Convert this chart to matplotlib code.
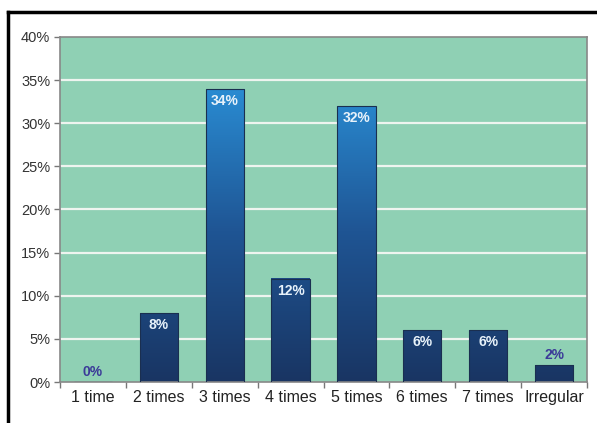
import matplotlib.pyplot as plt
import numpy as np
from matplotlib.colors import LinearSegmentedColormap
from matplotlib.lines import Line2D

categories = ['1 time', '2 times', '3 times', '4 times', '5 times', '6 times', '7 times', 'Irregular']
values = [0, 8, 34, 12, 32, 6, 6, 2]
yticks = [0, 5, 10, 15, 20, 25, 30, 35, 40]

plt.rcParams['font.family'] = ['Liberation Sans Narrow', 'Liberation Sans', 'DejaVu Sans']

fig = plt.figure(figsize=(5.97, 4.23), dpi=100)
ax = fig.add_axes([60 / 597, 1 - 382 / 423, 527 / 597, 345 / 423])
ax.set_facecolor('#8fd0b4')

n = len(categories)
ax.set_xlim(-0.5, n - 0.5)
ax.set_ylim(0, 40)

for y in yticks[1:-1]:
    ax.axhline(y, color='#eef4ef', lw=1.6, zorder=1)

cmap = LinearSegmentedColormap.from_list('bar', ['#193563', '#1f5594', '#2a8fd6'])
grad = np.linspace(0, 1, 256).reshape(-1, 1)
width = 0.58
x = np.arange(n)
bars = ax.bar(x, values, width=width, color='none', edgecolor='#1a2f50', lw=0.8, zorder=3)
for b, v in zip(bars, values):
    if v <= 0:
        continue
    x0 = b.get_x()
    im = ax.imshow(grad, cmap=cmap, origin='lower', aspect='auto',
                   extent=[x0, x0 + width, 0, 35], vmin=0, vmax=1, zorder=2)
    im.set_clip_path(b)

for xi, v in zip(x, values):
    if v >= 5:
        ax.text(xi, v - 0.6, f'{v}%', ha='center', va='top', color='#e8f2fa',
                fontsize=10, fontweight='bold', family=['Liberation Sans', 'DejaVu Sans'], zorder=4)
    else:
        ax.text(xi, v + 0.3, f'{v}%', ha='center', va='bottom', color='#3b3a98',
                fontsize=10, fontweight='bold', family=['Liberation Sans', 'DejaVu Sans'], zorder=4)

ax.set_yticks(yticks)
ax.set_yticklabels([f'{t}%' for t in yticks], fontsize=10.5, color='#333333')
ax.set_xticks(x)
ax.set_xticklabels(categories, fontsize=11.5, color='#222222')
ax.tick_params(axis='x', length=0, pad=6)
ax.tick_params(axis='y', length=4, width=1, color='#777777', pad=3)
ax.set_xticks(np.arange(-0.5, n, 1), minor=True)
ax.tick_params(axis='x', which='minor', length=4, width=1, color='#777777')

for s in ax.spines.values():
    s.set_color('#888888')
    s.set_linewidth(1.2)

# black frame lines along top and left of the image
fig.add_artist(Line2D([8 / 597, 1], [1 - 12 / 423, 1 - 12 / 423], color='black', lw=2.5,
                      transform=fig.transFigure))
fig.add_artist(Line2D([8 / 597, 8 / 597], [0, 1 - 12 / 423], color='black', lw=2.5,
                      transform=fig.transFigure))

fig.savefig('out.png', dpi=100)
